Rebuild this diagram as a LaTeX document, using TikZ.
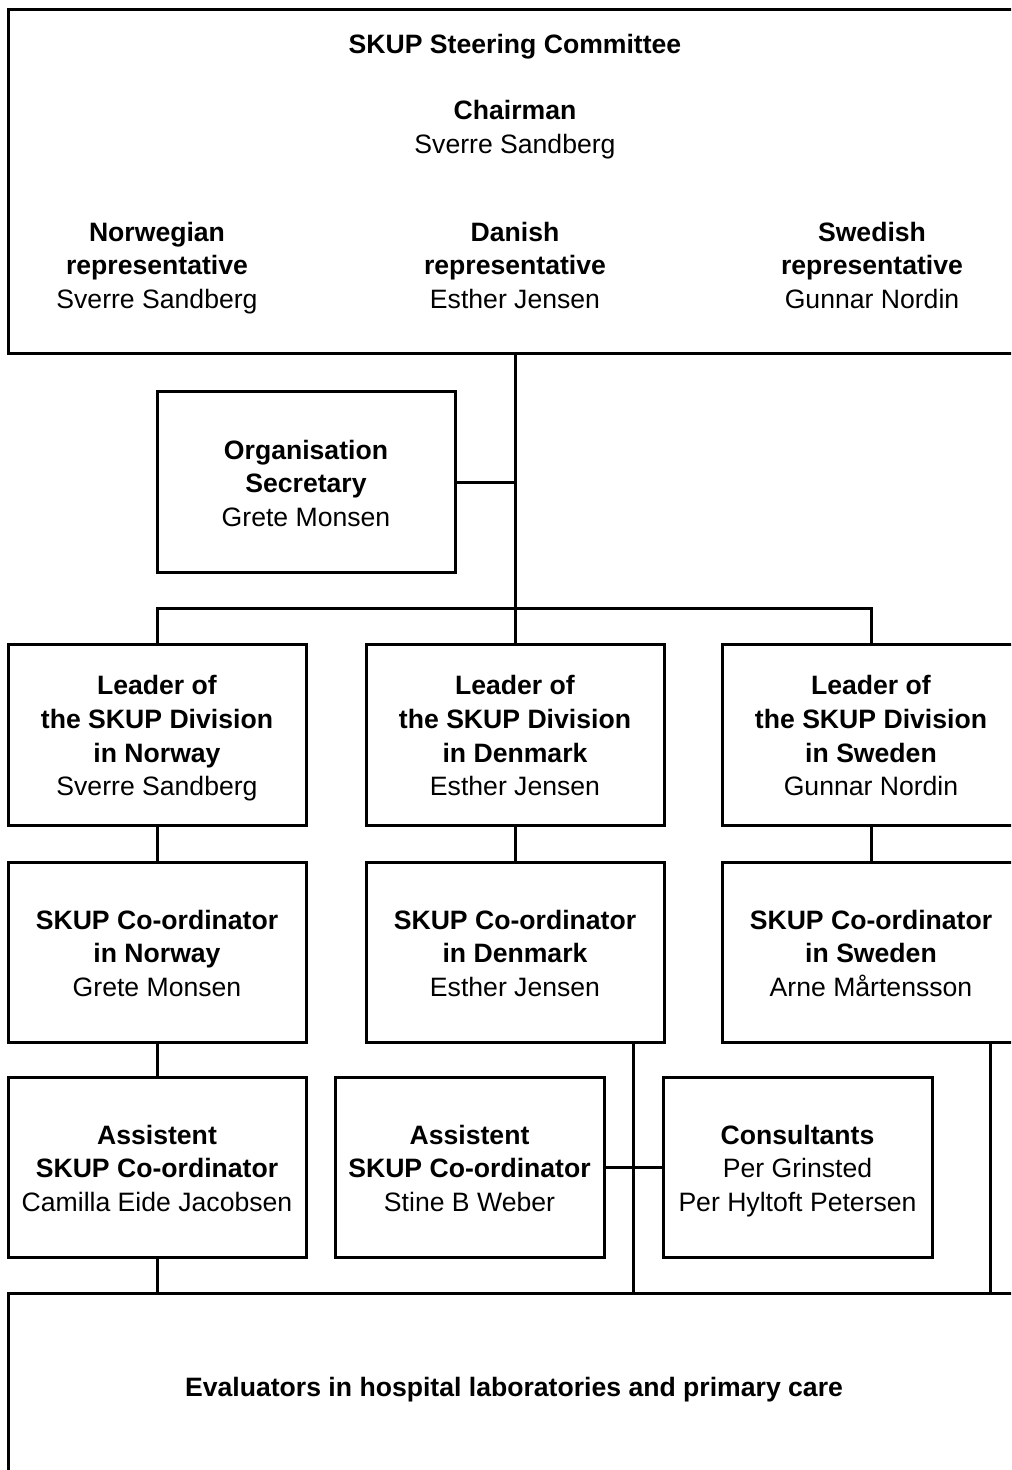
\documentclass[tikz,border=0pt]{standalone}
\usepackage{fontspec}
\setmainfont{Liberation Sans}
\usetikzlibrary{calc}
\newcommand\ttl[1]{\rule{0pt}{15.8pt}\textbf{#1}}

\begin{document}
\begin{tikzpicture}[x=0.5pt, y=-0.5pt,
		txt/.style={align=center, inner sep=0pt, font=\fontsize{13.3}{16.8}\selectfont,
			execute at end node=\strut},
		orgbox/.style={txt, draw, line width=1.5pt, rectangle,
			minimum width=149pt, minimum height=90pt},
		smallbox/.style={orgbox, minimum width=134.5pt},
		line width=1.5pt]
		\useasboundingbox (0,0) rectangle (1011,1470);
		\clip (0,0) rectangle (1011,1470);
		% steering committee
		\node[orgbox, minimum width=506pt, minimum height=172pt] (steer) at (514,182) {};
		\node[txt] (title) at (515,43) {\ttl{SKUP Steering Committee}};
		\node[txt] (chair) at (515,126) {\ttl{Chairman}\\Sverre Sandberg};
		\node[txt] (repNO) at (157,264) {\ttl{Norwegian}\\\textbf{representative}\\Sverre Sandberg};
		\node[txt] (repDK) at (515,264) {\ttl{Danish}\\\textbf{representative}\\Esther Jensen};
		\node[txt] (repSE) at (872,264) {\ttl{Swedish}\\\textbf{representative}\\Gunnar Nordin};
		% secretary
		\node[orgbox] (secr) at (306,482) {\ttl{Organisation}\\\textbf{Secretary}\\Grete Monsen};
		% leaders
		\node[orgbox, minimum height=90.5pt] (leadNO) at (157,734.5) {\ttl{Leader of}\\\textbf{the SKUP Division}\\\textbf{in Norway}\\Sverre Sandberg};
		\node[orgbox, minimum height=90.5pt] (leadDK) at (515,734.5) {\ttl{Leader of}\\\textbf{the SKUP Division}\\\textbf{in Denmark}\\Esther Jensen};
		\node[orgbox, minimum height=90.5pt] (leadSE) at (871,734.5) {\ttl{Leader of}\\\textbf{the SKUP Division}\\\textbf{in Sweden}\\Gunnar Nordin};
		% co-ordinators
		\node[orgbox] (coNO) at (157,952) {\ttl{SKUP Co-ordinator}\\\textbf{in Norway}\\Grete Monsen};
		\node[orgbox] (coDK) at (515,952) {\ttl{SKUP Co-ordinator}\\\textbf{in Denmark}\\Esther Jensen};
		\node[orgbox] (coSE) at (871,952) {\ttl{SKUP Co-ordinator}\\\textbf{in Sweden}\\Arne Mårtensson};
		% assistents and consultants
		\node[orgbox] (asNO) at (157,1167) {\ttl{Assistent}\\\textbf{SKUP Co-ordinator}\\Camilla Eide Jacobsen};
		\node[smallbox] (asDK) at (469.5,1167) {\ttl{Assistent}\\\textbf{SKUP Co-ordinator}\\Stine B Weber};
		\node[smallbox] (cons) at (797.5,1167) {\ttl{Consultants}\\Per Grinsted\\Per Hyltoft Petersen};
		% evaluators
		\node[orgbox, minimum width=506pt, minimum height=92.5pt] (eval) at (514,1385.5) {\ttl{Evaluators in hospital laboratories and primary care}};
		% connectors
		\coordinate (bus) at (515,608);
		\coordinate (mid) at ($(asDK.east)!0.5!(cons.west)$);
		\draw (steer.south -| leadDK) -- (leadDK.north);
		\draw (secr.east) -- (secr.east -| leadDK);
		\draw (leadNO.north) |- (bus) -| (leadSE.north);
		\draw (leadNO) -- (coNO);
		\draw (leadDK) -- (coDK);
		\draw (leadSE) -- (coSE);
		\draw (coNO) -- (asNO);
		\draw (asNO.south) -- (asNO.south |- eval.north);
		\draw (asDK) -- (cons);
		\draw (coDK.south -| mid) -- (eval.north -| mid);
		\draw ([xshift=59.5pt]coSE.south) -- ([xshift=59.5pt]coSE.south |- eval.north);
	\end{tikzpicture}
\end{document}
